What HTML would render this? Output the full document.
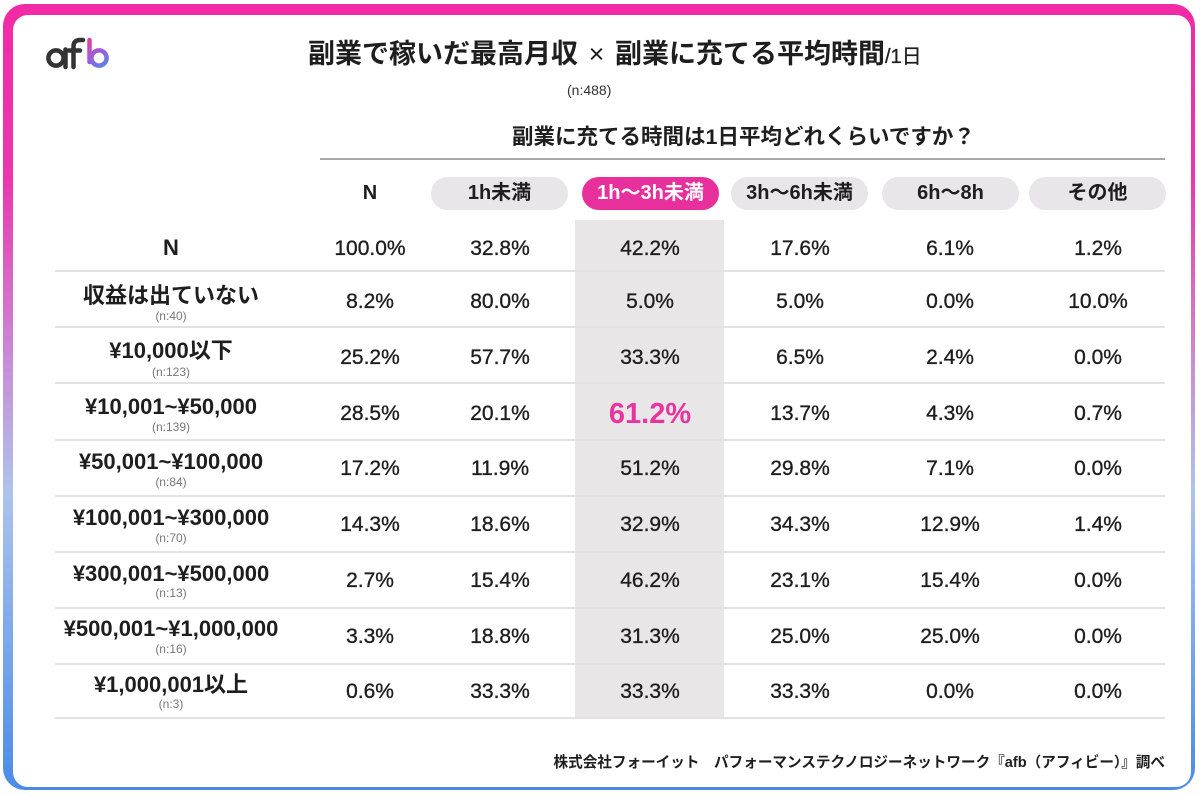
<!DOCTYPE html>
<html><head><meta charset="utf-8">
<style>
*{margin:0;padding:0;box-sizing:border-box}
html,body{width:1200px;height:797px;background:#fff;overflow:hidden}
body{position:relative;font-family:"Liberation Sans","Noto Sans CJK JP",sans-serif;color:#1e1e1e}
.frame{position:absolute;left:3px;top:4px;width:1192px;height:786px;border-radius:22px;background:linear-gradient(180deg,#f12aa5 0%,#ec36ab 22%,#c98bd6 45%,#aec3ec 62%,#7ea9ec 80%,#4a8be6 100%)}
.inner{position:absolute;left:10px;top:11px;width:1178px;height:772px;border-radius:15px;background:#fff}
.t{position:absolute;white-space:nowrap}
.c{position:absolute;text-align:center;white-space:nowrap}
.v{width:150px;height:30px;line-height:30px;font-size:21px;-webkit-text-stroke:0.35px #1e1e1e}
.lb{left:56px;width:230px;height:30px;line-height:30px;font-size:22px;font-weight:bold}
.sb{left:56px;width:230px;height:14px;line-height:14px;font-size:12px;color:#777}
.ln{position:absolute;left:55px;width:1110px;height:2px;background:#e2e2e2}
.pill{position:absolute;top:177px;width:137px;height:33px;border-radius:17px;background:#e8e6e8;text-align:center;line-height:33px;font-size:20px;font-weight:bold;white-space:nowrap}
</style></head><body>
<div class="frame"><div class="inner"></div></div>

<!-- logo -->
<svg style="position:absolute;left:0;top:0" width="130" height="90" viewBox="0 0 130 90">
<defs><linearGradient id="g" x1="87" y1="38" x2="109" y2="68" gradientUnits="userSpaceOnUse">
<stop offset="0" stop-color="#f0389c"/><stop offset="0.5" stop-color="#9a5ede"/><stop offset="1" stop-color="#4c8de8"/></linearGradient></defs>
<circle cx="56" cy="58" r="7.6" fill="none" stroke="#333" stroke-width="4.5"/>
<line x1="65.5" y1="49.5" x2="65.5" y2="67" stroke="#333" stroke-width="4.5" stroke-linecap="round"/>
<path d="M73.5 67 V46.5 Q73.5 40 80 40 H83" fill="none" stroke="#333" stroke-width="4.5" stroke-linecap="round"/>
<line x1="69" y1="50.5" x2="80" y2="50.5" stroke="#333" stroke-width="4.5" stroke-linecap="round"/>
<line x1="89.5" y1="40" x2="89.5" y2="62" stroke="url(#g)" stroke-width="4.5" stroke-linecap="round"/>
<circle cx="99" cy="58" r="7.6" fill="none" stroke="url(#g)" stroke-width="4.5"/>
</svg>

<!-- title -->
<div class="t" style="left:308px;top:39px;height:30px;line-height:30px;font-size:27px;font-weight:bold">副業で稼いだ最高月収<span style="display:inline-block;width:37px;text-align:center;font-weight:normal">×</span>副業に充てる平均時間<span style="font-size:20px;font-weight:normal;-webkit-text-stroke:0.3px #1e1e1e">/1日</span></div>
<div class="t" style="left:567px;top:81px;height:18px;line-height:18px;font-size:14px;color:#333">(n:488)</div>

<div class="t" style="left:512px;top:122px;height:30px;line-height:30px;font-size:21.5px;font-weight:bold">副業に充てる時間は1日平均どれくらいですか？</div>
<div style="position:absolute;left:320px;top:158px;width:845px;height:2px;background:#a8a8a8"></div>

<!-- highlight column -->
<div style="position:absolute;left:575px;top:220px;width:149px;height:498px;background:#e8e6e7"></div>

<!-- header -->
<div class="c" style="left:295px;top:178px;width:150px;height:30px;line-height:30px;font-size:20px;font-weight:bold">N</div>
<div class="pill" style="left:431px">1h未満</div>
<div class="pill" style="left:582px;background:#e8309c;color:#fff">1h～3h未満</div>
<div class="pill" style="left:731px">3h～6h未満</div>
<div class="pill" style="left:882px">6h～8h</div>
<div class="pill" style="left:1029px">その他</div>

<!-- row lines -->
<div class="ln" style="top:270px"></div>
<div class="ln" style="top:326px"></div>
<div class="ln" style="top:382px"></div>
<div class="ln" style="top:439px"></div>
<div class="ln" style="top:495px"></div>
<div class="ln" style="top:551px"></div>
<div class="ln" style="top:607px"></div>
<div class="ln" style="top:663px"></div>
<div class="ln" style="top:717px"></div>

<!-- N row -->
<div class="c lb" style="top:233px">N</div>
<div class="c v" style="left:295px;top:234px">100.0%</div>
<div class="c v" style="left:425px;top:234px">32.8%</div>
<div class="c v" style="left:575px;top:234px">42.2%</div>
<div class="c v" style="left:725px;top:234px">17.6%</div>
<div class="c v" style="left:875px;top:234px">6.1%</div>
<div class="c v" style="left:1023px;top:234px">1.2%</div>

<!-- row 1 -->
<div class="c lb" style="top:281px">収益は出ていない</div>
<div class="c sb" style="top:309px">(n:40)</div>
<div class="c v" style="left:295px;top:287px">8.2%</div>
<div class="c v" style="left:425px;top:287px">80.0%</div>
<div class="c v" style="left:575px;top:287px">5.0%</div>
<div class="c v" style="left:725px;top:287px">5.0%</div>
<div class="c v" style="left:875px;top:287px">0.0%</div>
<div class="c v" style="left:1023px;top:287px">10.0%</div>

<!-- row 2 -->
<div class="c lb" style="top:336px">¥10,000以下</div>
<div class="c sb" style="top:365px">(n:123)</div>
<div class="c v" style="left:295px;top:343px">25.2%</div>
<div class="c v" style="left:425px;top:343px">57.7%</div>
<div class="c v" style="left:575px;top:343px">33.3%</div>
<div class="c v" style="left:725px;top:343px">6.5%</div>
<div class="c v" style="left:875px;top:343px">2.4%</div>
<div class="c v" style="left:1023px;top:343px">0.0%</div>

<!-- row 3 -->
<div class="c lb" style="top:392px">¥10,001~¥50,000</div>
<div class="c sb" style="top:420px">(n:139)</div>
<div class="c v" style="left:295px;top:399px">28.5%</div>
<div class="c v" style="left:425px;top:399px">20.1%</div>
<div class="c" style="left:575px;top:396px;width:150px;height:36px;line-height:36px;font-size:29px;font-weight:bold;color:#e8349f">61.2%</div>
<div class="c v" style="left:725px;top:399px">13.7%</div>
<div class="c v" style="left:875px;top:399px">4.3%</div>
<div class="c v" style="left:1023px;top:399px">0.7%</div>

<!-- row 4 -->
<div class="c lb" style="top:447px">¥50,001~¥100,000</div>
<div class="c sb" style="top:475px">(n:84)</div>
<div class="c v" style="left:295px;top:454px">17.2%</div>
<div class="c v" style="left:425px;top:454px">11.9%</div>
<div class="c v" style="left:575px;top:454px">51.2%</div>
<div class="c v" style="left:725px;top:454px">29.8%</div>
<div class="c v" style="left:875px;top:454px">7.1%</div>
<div class="c v" style="left:1023px;top:454px">0.0%</div>

<!-- row 5 -->
<div class="c lb" style="top:503px">¥100,001~¥300,000</div>
<div class="c sb" style="top:531px">(n:70)</div>
<div class="c v" style="left:295px;top:510px">14.3%</div>
<div class="c v" style="left:425px;top:510px">18.6%</div>
<div class="c v" style="left:575px;top:510px">32.9%</div>
<div class="c v" style="left:725px;top:510px">34.3%</div>
<div class="c v" style="left:875px;top:510px">12.9%</div>
<div class="c v" style="left:1023px;top:510px">1.4%</div>

<!-- row 6 -->
<div class="c lb" style="top:559px">¥300,001~¥500,000</div>
<div class="c sb" style="top:586px">(n:13)</div>
<div class="c v" style="left:295px;top:566px">2.7%</div>
<div class="c v" style="left:425px;top:566px">15.4%</div>
<div class="c v" style="left:575px;top:566px">46.2%</div>
<div class="c v" style="left:725px;top:566px">23.1%</div>
<div class="c v" style="left:875px;top:566px">15.4%</div>
<div class="c v" style="left:1023px;top:566px">0.0%</div>

<!-- row 7 -->
<div class="c lb" style="top:614px">¥500,001~¥1,000,000</div>
<div class="c sb" style="top:642px">(n:16)</div>
<div class="c v" style="left:295px;top:622px">3.3%</div>
<div class="c v" style="left:425px;top:622px">18.8%</div>
<div class="c v" style="left:575px;top:622px">31.3%</div>
<div class="c v" style="left:725px;top:622px">25.0%</div>
<div class="c v" style="left:875px;top:622px">25.0%</div>
<div class="c v" style="left:1023px;top:622px">0.0%</div>

<!-- row 8 -->
<div class="c lb" style="top:670px">¥1,000,001以上</div>
<div class="c sb" style="top:697px">(n:3)</div>
<div class="c v" style="left:295px;top:677px">0.6%</div>
<div class="c v" style="left:425px;top:677px">33.3%</div>
<div class="c v" style="left:575px;top:677px">33.3%</div>
<div class="c v" style="left:725px;top:677px">33.3%</div>
<div class="c v" style="left:875px;top:677px">0.0%</div>
<div class="c v" style="left:1023px;top:677px">0.0%</div>

<!-- footer -->
<div class="t" style="right:35px;top:754px;height:18px;line-height:18px;font-size:14.6px;font-weight:bold">株式会社フォーイット　パフォーマンステクノロジーネットワーク『afb（アフィビー）』調べ</div>
</body></html>
